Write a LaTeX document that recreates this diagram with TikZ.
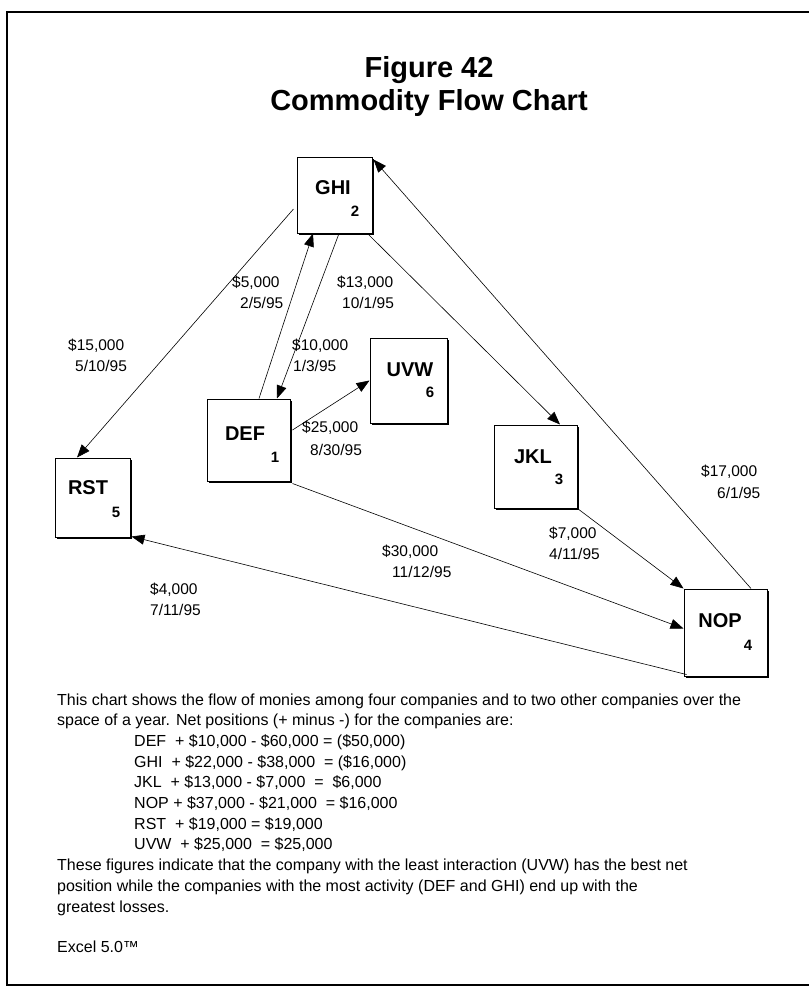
\documentclass[tikz,border=0pt]{standalone}
\usepackage{fontspec}
\setmainfont{Liberation Sans}
\usetikzlibrary{arrows.meta,calc,shadows}
\begin{document}
\begin{tikzpicture}[x=1pt,y=-1pt,
  box/.style={draw,fill=white,line width=1pt,inner sep=0pt,
    drop shadow={shadow xshift=1.6pt,shadow yshift=-1.6pt,fill=black,opacity=1}},
  bname/.style={font=\fontsize{20}{23}\selectfont\bfseries,inner sep=0pt},
  bnum/.style={font=\fontsize{15}{17}\selectfont\bfseries,inner sep=0pt},
  flow/.style={-{Triangle[length=13pt,width=10pt]},line width=0.6pt},
  lbl/.style={font=\fontsize{15.5}{18}\selectfont,anchor=west,inner sep=0pt},
  body/.style={font=\fontsize{16}{20}\selectfont,anchor=base west,inner sep=0pt},
  ttl/.style={font=\fontsize{29}{34}\selectfont\bfseries,anchor=base,inner sep=0pt}]
\useasboundingbox (0,0) rectangle (809,994);
% frame
\draw[line width=1.3pt] (809,12) -- (7,12) -- (7,985) -- (809,985);
% title
\node[ttl] (t1) at (429,77) {Figure 42};
\node[ttl] (t2) at (429,110) {Commodity Flow Chart};
% boxes
\node[box,minimum width=75pt,minimum height=76pt] (ghi) at (334.5,195) {};
\node[box,minimum width=83pt,minimum height=82pt] (def) at (248.5,440) {};
\node[box,minimum width=75pt,minimum height=79pt] (rst) at (92.5,497.5) {};
\node[box,minimum width=77pt,minimum height=85pt] (uvw) at (408.5,380.5) {};
\node[box,minimum width=83pt,minimum height=83pt] (jkl) at (535.5,466.5) {};
\node[box,minimum width=83pt,minimum height=87pt] (nop) at (725.5,632.5) {};
\node[bname] (ghiT) at (333,188) {GHI};   \node[bnum] (ghiN) at (355,211) {2};
\node[bname] (defT) at (245,434) {DEF};   \node[bnum] (defN) at (275,457) {1};
\node[bname] (rstT) at (88,488) {RST};    \node[bnum] (rstN) at (116,512) {5};
\node[bname] (uvwT) at (410,370) {UVW};   \node[bnum] (uvwN) at (430,392) {6};
\node[bname] (jklT) at (533,457) {JKL};   \node[bnum] (jklN) at (559,479) {3};
\node[bname] (nopT) at (720,621) {NOP};   \node[bnum] (nopN) at (748,645) {4};
% flows
\draw[flow] ($(ghi.west)+(-3,14)$) -- ($(rst.north)+(-15.5,0)$);
\draw[flow] ($(def.north)+(10.5,0)$) -- ($(ghi.south)+(-21.5,0)$);
\draw[flow] ($(ghi.south)+(4.5,0)$) -- ($(def.north)+(28.5,0)$);
\draw[flow] ($(def.east)+(2,-10)$) -- (uvw.west);
\draw[flow] ($(ghi.south east)+(-5,0)$) -- ($(jkl.north)+(24.5,0)$);
\draw[flow] ($(nop.north)+(25.5,0)$) -- ($(ghi.north east)+(1,3)$);
\draw[flow] (jkl.south east) -- (nop.north west);
\draw[flow] ($(def.south east)+(2,2)$) -- ($(nop.west)+(0,-4)$);
\draw[flow] ($(nop.south west)+(3,-2)$) -- ($(rst.south east)+(1,-1)$);
% flow labels
\node[lbl] (l1a) at (68,346) {\$15,000};  \node[lbl] (l1b) at (75,366) {5/10/95};
\node[lbl] (l2a) at (232,283) {\$5,000};  \node[lbl] (l2b) at (240,303) {2/5/95};
\node[lbl] (l3a) at (337,283) {\$13,000}; \node[lbl] (l3b) at (342,303) {10/1/95};
\node[lbl] (l4a) at (292,346) {\$10,000}; \node[lbl] (l4b) at (293,366) {1/3/95};
\node[lbl] (l5a) at (302,428) {\$25,000}; \node[lbl] (l5b) at (310,450) {8/30/95};
\node[lbl] (l6a) at (701,472) {\$17,000}; \node[lbl] (l6b) at (717,493) {6/1/95};
\node[lbl] (l7a) at (549,534) {\$7,000};  \node[lbl] (l7b) at (549,554) {4/11/95};
\node[lbl] (l8a) at (382,552) {\$30,000}; \node[lbl] (l8b) at (392,572) {11/12/95};
\node[lbl] (l9a) at (150,590) {\$4,000};  \node[lbl] (l9b) at (150,610) {7/11/95};
% body text
\node[body] (b1) at (57,705) {This chart shows the flow of monies among four companies and to two other companies over the};
\node[body] (b2) at (57,725.5) {space of a year. Net positions (+ minus -) for the companies are:};
\node[body] (b3) at (134,746) {DEF~ + \$10,000 - \$60,000 = (\$50,000)};
\node[body] (b4) at (134,767) {GHI~ + \$22,000 - \$38,000~ = (\$16,000)};
\node[body] (b5) at (134,787.5) {JKL~ + \$13,000 - \$7,000~ =~ \$6,000};
\node[body] (b6) at (134,808) {NOP + \$37,000 - \$21,000~ = \$16,000};
\node[body] (b7) at (134,829) {RST~ + \$19,000 = \$19,000};
\node[body] (b8) at (134,849.5) {UVW~ + \$25,000~ = \$25,000};
\node[body] (b9) at (57,870) {These figures indicate that the company with the least interaction (UVW) has the best net};
\node[body] (b10) at (57,891) {position while the companies with the most activity (DEF and GHI) end up with the};
\node[body] (b11) at (57,912) {greatest losses.};
\node[body] (b12) at (57,952.5) {Excel 5.0™};
\end{tikzpicture}
\end{document}
